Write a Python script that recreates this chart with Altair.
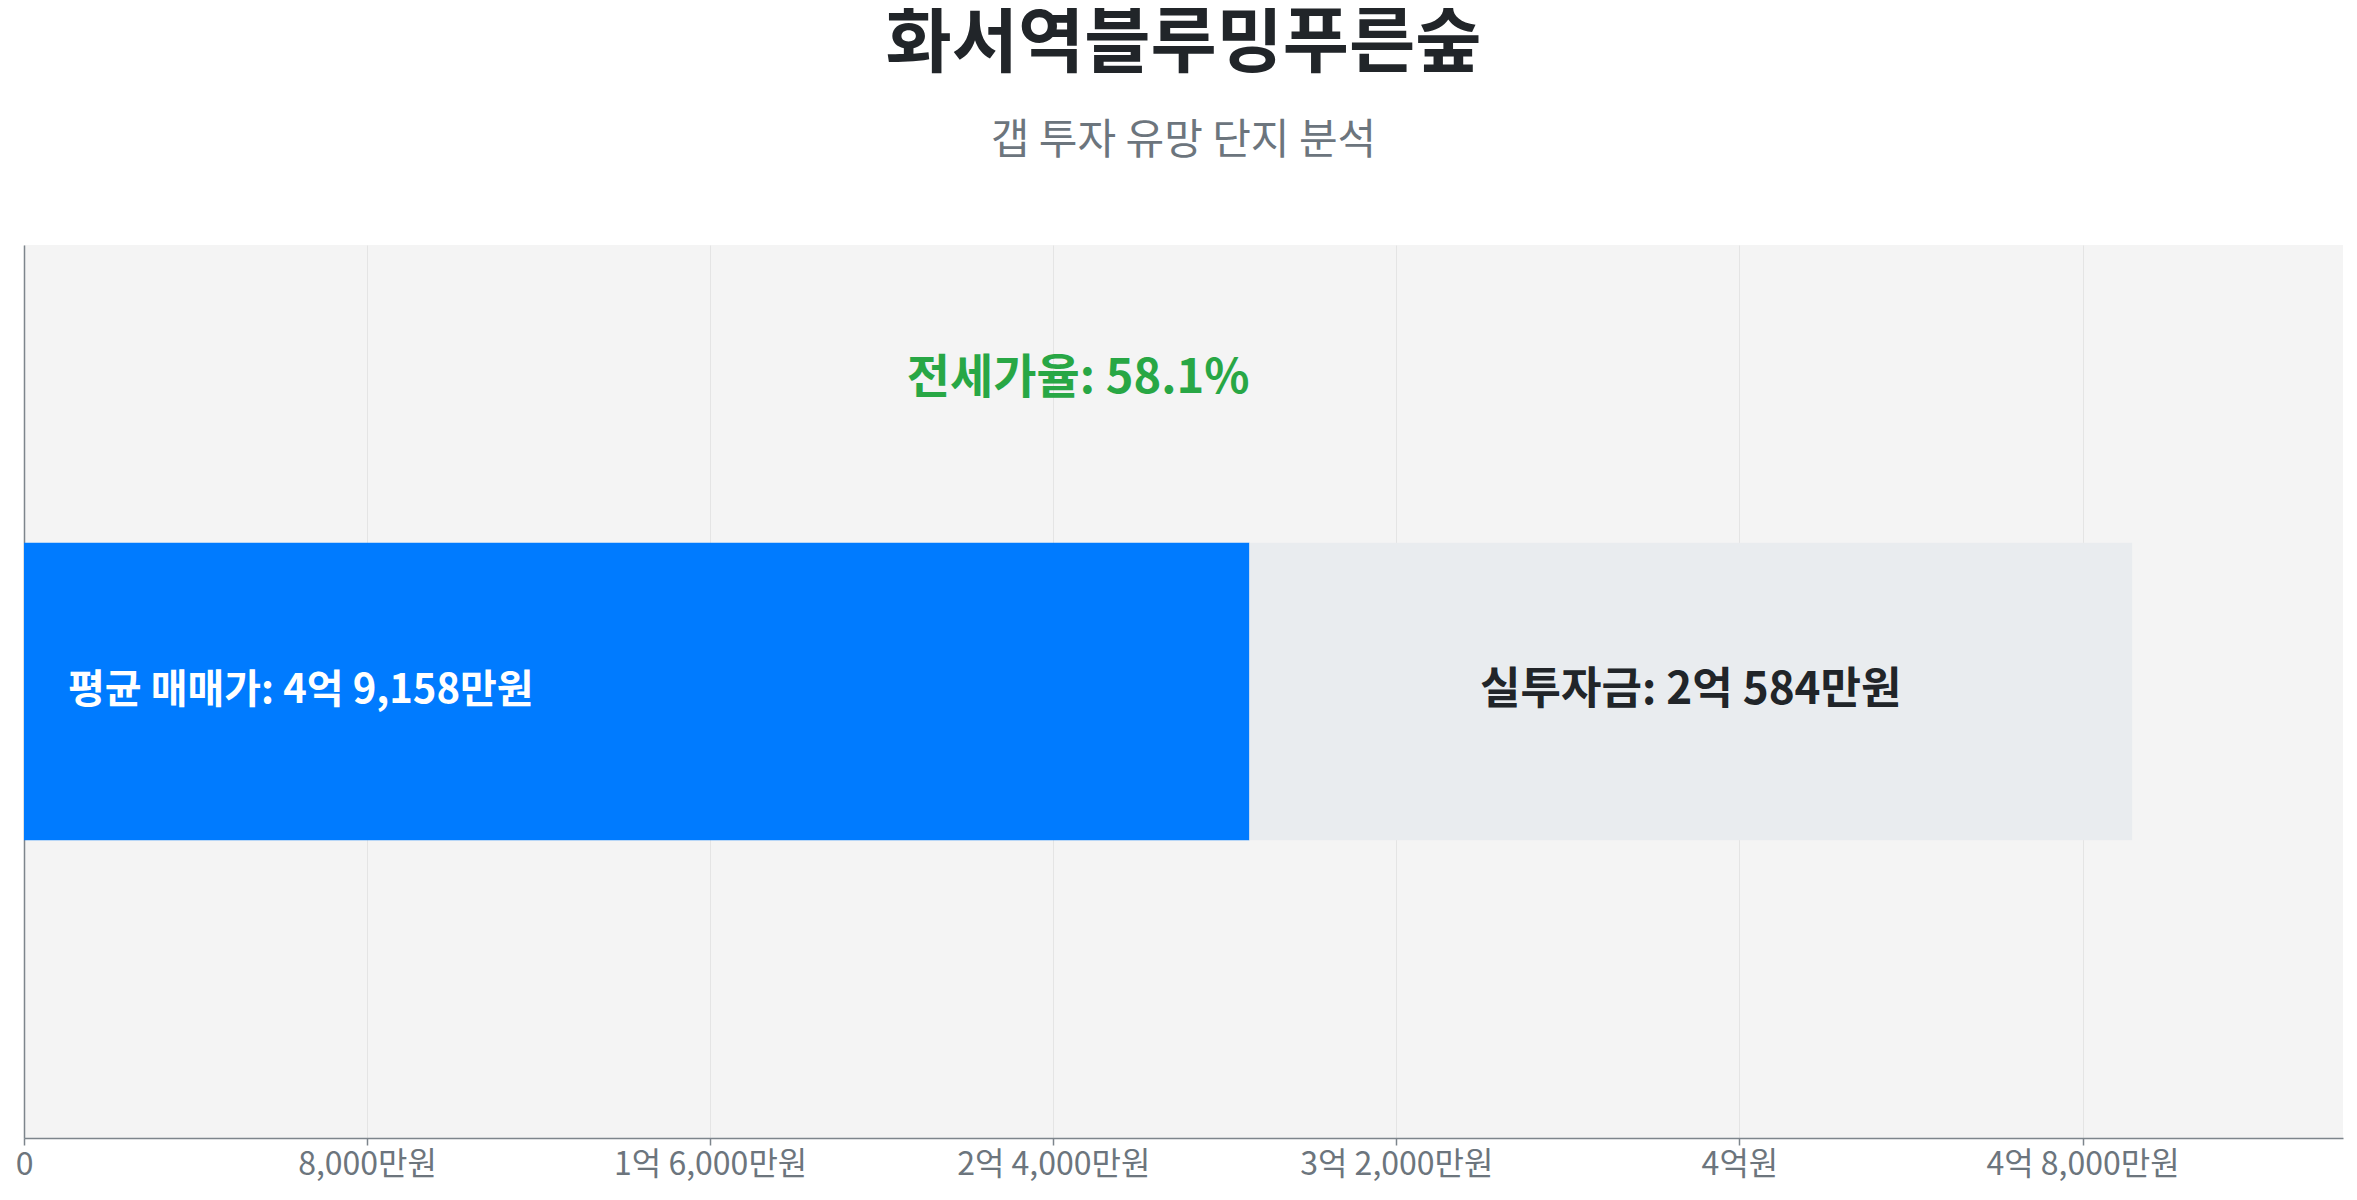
import altair as alt
import pandas as pd

title_text = "화서역블루밍푸른숲"
subtitle_text = "갭 투자 유망 단지 분석"

# values in 만원
avg_price = 49158
invest = 20584
jeonse = avg_price - invest
jeonse_ratio_label = "전세가율: 58.1%"
price_label = "평균 매매가: 4억 9,158만원"
invest_label = "실투자금: 2억 584만원"
tick_values = [0, 8000, 16000, 24000, 32000, 40000, 48000]

FONT = "Noto Sans CJK KR"
x_max = avg_price * 1.1

bars = pd.DataFrame({
    "seg": ["전세", "실투자금"],
    "start": [0, jeonse],
    "end": [jeonse, avg_price],
    "color": ["#007bff", "#e9ecef"],
})

label_expr = (
    "datum.value == 0 ? '0' : "
    "(floor(datum.value / 10000) > 0 ? "
    "(floor(datum.value / 10000) + '억' + "
    "(datum.value % 10000 > 0 ? ' ' + format(datum.value % 10000, ',') + '만원' : '원')) : "
    "format(datum.value, ',') + '만원')"
)

x_scale = alt.Scale(domain=[0, x_max], nice=False, zero=True)
y_scale = alt.Scale(domain=[0, 3], nice=False)

base = alt.Chart(bars)

bar = base.mark_bar().encode(
    x=alt.X("start:Q", scale=x_scale,
            axis=alt.Axis(values=tick_values, labelExpr=label_expr, title=None,
                          grid=True, gridColor="#e4e4e4", gridWidth=1,
                          domainColor="#7d858c", domainWidth=1.5,
                          tickColor="#7d858c", tickWidth=1.5, tickSize=7,
                          labelFont=FONT, labelFontSize=32, labelColor="#6c757d",
                          labelPadding=4, labelFlush=False, labelLimit=600,
                          labelOverlap=False)),
    x2="end:Q",
    y=alt.Y("lo:Q", scale=y_scale,
            axis=alt.Axis(title=None, labels=False, ticks=False, grid=False,
                          domainColor="#7d858c", domainWidth=1.5)),
    y2="hi:Q",
    color=alt.Color("color:N", scale=None),
).transform_calculate(lo="1", hi="2")

ratio_text = alt.Chart(pd.DataFrame({"t": [jeonse_ratio_label], "x": [avg_price / 2]})).mark_text(
    font=FONT, fontSize=47, fontWeight="bold", color="#28a745", align="center", baseline="middle"
).encode(x=alt.X("x:Q", scale=x_scale), y=alt.value(134), text="t:N")

price_text = alt.Chart(pd.DataFrame({"t": [price_label], "x": [0]})).mark_text(
    font=FONT, fontSize=40, fontWeight="bold", color="white", align="left", baseline="middle", dx=44
).encode(x=alt.X("x:Q", scale=x_scale), y=alt.value(446), text="t:N")

invest_text = alt.Chart(pd.DataFrame({"t": [invest_label], "x": [(jeonse + avg_price) / 2]})).mark_text(
    font=FONT, fontSize=44, fontWeight="bold", color="#212529", align="center", baseline="middle"
).encode(x=alt.X("x:Q", scale=x_scale), y=alt.value(446), text="t:N")

chart = alt.layer(bar, ratio_text, price_text, invest_text).properties(
    width=2319,
    height=893,
    padding={"left": 7, "top": 0, "right": 5, "bottom": 5},
    title=alt.TitleParams(
        text=title_text, subtitle=subtitle_text, anchor="middle",
        font=FONT, fontSize=72, fontWeight="bold", color="#212529",
        subtitleFont=FONT, subtitleFontSize=42, subtitleColor="#6c757d",
        subtitlePadding=40, offset=82,
    ),
).configure_view(fill="#f4f4f4", stroke=None)

chart.save("out.html", embed_options={"renderer": "svg", "actions": False})
